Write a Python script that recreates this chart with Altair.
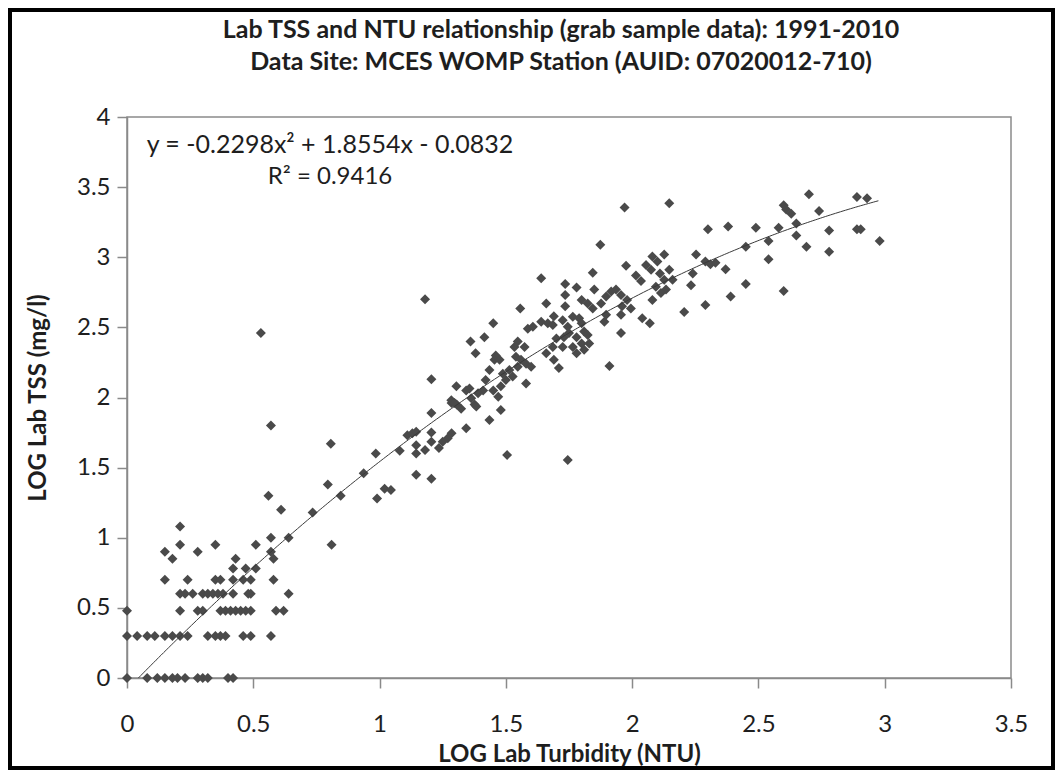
import altair as alt
import pandas as pd

# ---------------- text ----------------
TITLE_LINES = [
    "Lab TSS and NTU relationship (grab sample data): 1991-2010",
    "Data Site: MCES WOMP Station (AUID: 07020012-710)",
]
X_TITLE = "LOG Lab Turbidity (NTU)"
Y_TITLE = "LOG Lab TSS (mg/l)"
X_TICKS = [0, 0.5, 1, 1.5, 2, 2.5, 3, 3.5]
Y_TICKS = [0, 0.5, 1, 1.5, 2, 2.5, 3, 3.5, 4]

# trend line (polynomial, order 2) as printed on the chart
COEF_A = -0.2298
COEF_B = 1.8554
COEF_C = -0.0832
R_SQUARED = 0.9416
FIT_START = 0.045
FIT_END = 2.98
EQ_LINE1 = "y = -0.2298x\u00b2 + 1.8554x - 0.0832"
EQ_LINE2 = "R\u00b2 = 0.9416"

# ---------------- data (LOG turbidity, LOG TSS) ----------------
floor_rows = [
    (0.00, 0), (0.08, 0), (0.12, 0), (0.15, 0), (0.18, 0), (0.20, 0), (0.23, 0),
    (0.28, 0), (0.30, 0), (0.32, 0), (0.40, 0), (0.42, 0),
    (0.00, 0.30), (0.04, 0.30), (0.08, 0.30), (0.11, 0.30), (0.15, 0.30), (0.18, 0.30),
    (0.21, 0.30), (0.24, 0.30), (0.32, 0.30), (0.35, 0.30), (0.37, 0.30), (0.39, 0.30),
    (0.46, 0.30), (0.49, 0.30), (0.57, 0.30),
    (0.00, 0.48), (0.21, 0.48), (0.28, 0.48), (0.30, 0.48), (0.37, 0.48), (0.39, 0.48),
    (0.41, 0.48), (0.43, 0.48), (0.45, 0.48), (0.47, 0.48), (0.49, 0.48), (0.59, 0.48),
    (0.62, 0.48),
    (0.21, 0.60), (0.23, 0.60), (0.26, 0.60), (0.30, 0.60), (0.32, 0.60), (0.34, 0.60),
    (0.36, 0.60), (0.38, 0.60), (0.42, 0.60), (0.48, 0.60), (0.49, 0.60), (0.64, 0.60),
    (0.15, 0.70), (0.24, 0.70), (0.35, 0.70), (0.37, 0.70), (0.42, 0.70), (0.46, 0.70),
    (0.49, 0.70), (0.58, 0.70),
    (0.42, 0.78), (0.47, 0.78), (0.51, 0.78),
    (0.18, 0.85), (0.43, 0.85), (0.58, 0.85),
    (0.15, 0.90), (0.28, 0.90), (0.57, 0.90),
    (0.21, 0.95), (0.35, 0.95), (0.51, 0.95), (0.81, 0.95),
    (0.57, 1.00), (0.64, 1.00), (0.21, 1.08),
    (0.61, 1.20), (0.56, 1.30), (0.57, 1.80), (0.53, 2.46),
]

transition = [
    (0.735, 1.18), (0.795, 1.38), (0.807, 1.67), (0.846, 1.30), (0.937, 1.46),
    (0.985, 1.60), (0.99, 1.28), (1.02, 1.35), (1.045, 1.34), (1.08, 1.62),
    (1.11, 1.73), (1.13, 1.745), (1.145, 1.755), (1.145, 1.66), (1.145, 1.60),
    (1.18, 1.625), (1.145, 1.45), (1.205, 1.42), (1.205, 1.89), (1.205, 1.75),
    (1.205, 1.685), (1.235, 1.64), (1.25, 1.685), (1.27, 1.71), (1.285, 1.745),
    (1.285, 1.96), (1.305, 1.95), (1.18, 2.70), (1.205, 2.13),
]

core_lower = [
    (1.735, 2.81), (1.735, 2.73), (1.735, 2.65), (1.66, 2.67), (1.557, 2.635),
    (1.45, 2.53), (1.415, 2.43), (1.36, 2.40), (1.38, 2.315), (1.587, 2.49),
    (1.607, 2.505), (1.64, 2.54), (1.666, 2.53), (1.69, 2.58), (1.70, 2.42),
    (1.725, 2.36), (1.534, 2.36), (1.547, 2.40), (1.574, 2.36), (1.54, 2.29),
    (1.56, 2.27), (1.58, 2.24), (1.60, 2.22), (1.514, 2.196), (1.527, 2.15),
    (1.547, 2.22), (1.46, 2.30), (1.455, 2.27), (1.475, 2.27), (1.435, 2.196),
    (1.488, 2.17), (1.48, 2.08), (1.50, 2.125), (1.47, 2.005), (1.45, 2.05),
    (1.42, 2.125), (1.41, 2.05), (1.39, 2.03), (1.363, 1.995), (1.376, 1.95),
    (1.383, 1.935), (1.343, 2.05), (1.356, 2.065), (1.304, 2.08), (1.284, 1.98),
    (1.297, 1.96), (1.323, 1.92), (1.58, 2.10), (1.435, 1.84), (1.48, 1.91),
    (1.343, 1.78), (1.66, 2.315), (1.69, 2.27), (1.71, 2.21), (1.686, 2.36),
    (1.505, 1.59), (1.745, 1.555),
]

core_upper = [
    (1.686, 2.517), (1.725, 2.55), (1.745, 2.505), (1.765, 2.576), (1.79, 2.565),
    (1.80, 2.53), (1.75, 2.46), (1.73, 2.43), (1.78, 2.43), (1.81, 2.47),
    (1.824, 2.445), (1.83, 2.385), (1.80, 2.385), (1.765, 2.36), (1.78, 2.315),
    (1.81, 2.34), (1.91, 2.225),
    (1.64, 2.85), (1.78, 2.785), (1.844, 2.89), (1.85, 2.77), (1.80, 2.695),
    (1.824, 2.67), (1.844, 2.635), (1.877, 2.67), (1.897, 2.72), (1.917, 2.755),
    (1.936, 2.77), (1.956, 2.73), (1.976, 2.94), (2.015, 2.87), (1.96, 2.65),
    (1.98, 2.695), (1.995, 2.635), (1.956, 2.59), (1.897, 2.59), (1.89, 2.54),
    (1.956, 2.46), (2.04, 2.565), (2.07, 2.53), (2.055, 2.945), (2.08, 3.005),
    (2.10, 2.97), (2.127, 3.02), (2.075, 2.91), (2.11, 2.885), (2.127, 2.84),
    (2.147, 2.91), (2.134, 2.77), (2.114, 2.745), (2.094, 2.79), (2.08, 2.695),
    (2.035, 2.83), (2.16, 2.84), (1.874, 3.09), (1.97, 3.355), (2.147, 3.385),
]

top_right = [
    (2.253, 3.02), (2.24, 2.885), (2.233, 2.80), (2.206, 2.61), (2.29, 2.66),
    (2.70, 3.45), (2.89, 3.43), (2.93, 3.42), (2.60, 3.37), (2.61, 3.34),
    (2.63, 3.31), (2.74, 3.33), (2.65, 3.24), (2.58, 3.21), (2.49, 3.21),
    (2.38, 3.22), (2.30, 3.20), (2.78, 3.19), (2.89, 3.20), (2.905, 3.20),
    (2.98, 3.115), (2.65, 3.155), (2.54, 3.115), (2.45, 3.075), (2.69, 3.075),
    (2.78, 3.04), (2.54, 2.985), (2.29, 2.97), (2.31, 2.95), (2.33, 2.96),
    (2.37, 2.915), (2.45, 2.81), (2.60, 2.76), (2.39, 2.72),
]

points = floor_rows + transition + core_lower + core_upper + top_right
df = pd.DataFrame(points, columns=["x", "y"])

# ---------------- layout ----------------
W, H = 884, 561
PAD = {"left": 119, "top": 109, "right": 44, "bottom": 92}
FONT = "Lato"
GREY = "#8a8a8a"
INK = "#1e1e1e"

x_scale = alt.Scale(domain=[0, 3.5], nice=False, zero=False)
y_scale = alt.Scale(domain=[0, 4], nice=False, zero=False)

x_axis = alt.Axis(
    values=X_TICKS, format="~g", title=X_TITLE, tickSize=10, labelPadding=24,
    titleX=W / 2, titleY=76, titleAlign="center", titleBaseline="middle",
    labelFlush=False,
)
y_axis = alt.Axis(
    values=Y_TICKS, format="~g", title=Y_TITLE, tickSize=10, labelPadding=7,
    titleX=-89, titleY=H / 2, titleAlign="center", titleBaseline="middle",
    titleAngle=270, labelFlush=False,
)

X = alt.X("x:Q", scale=x_scale, axis=x_axis)
Y = alt.Y("y:Q", scale=y_scale, axis=y_axis)

frame = alt.Chart(pd.DataFrame({"k": [0]})).mark_rect(
    fillOpacity=0, stroke="black", strokeWidth=4
).encode(
    x=alt.value(-PAD["left"] + 2), x2=alt.value(W + PAD["right"] - 2),
    y=alt.value(-PAD["top"] + 2), y2=alt.value(H + PAD["bottom"] - 2),
)

scatter = alt.Chart(df).mark_point(
    shape="diamond", filled=True, size=100, color="#4a4a4a", opacity=1
).encode(x=X, y=Y)

curve = alt.Chart(alt.sequence(FIT_START, FIT_END + 0.001, 0.01, as_="x")).transform_calculate(
    y=f"{COEF_A}*datum.x*datum.x + {COEF_B}*datum.x + ({COEF_C})"
).mark_line(color="#3a3a3a", strokeWidth=1).encode(x=X, y=Y)

txt_df = pd.DataFrame({
    "t1": [TITLE_LINES[0]], "t2": [TITLE_LINES[1]],
    "e1": [EQ_LINE1], "e2": [EQ_LINE2],
})


def text_layer(field, px, py, size, weight="normal"):
    return alt.Chart(txt_df).mark_text(
        font=FONT, fontSize=size, fontWeight=weight, color=INK,
        align="center", baseline="middle",
    ).encode(x=alt.value(px), y=alt.value(py), text=f"{field}:N")


title1 = text_layer("t1", 434, -87, 25, "bold")
title2 = text_layer("t2", 434, -55, 25, "bold")
eq1 = text_layer("e1", 203, 28, 25)
eq2 = text_layer("e2", 203, 60, 24)

chart = alt.layer(frame, scatter, curve, eq1, eq2, title1, title2).properties(
    width=W, height=H,
    padding=PAD,
    autosize=alt.AutoSizeParams(type="none"),
).configure_view(
    stroke=GREY, strokeWidth=1.5
).configure_axis(
    grid=False, domainColor=GREY, domainWidth=1.5, tickColor=GREY, tickWidth=1.5,
    labelFont=FONT, labelFontSize=24, labelColor=INK,
    titleFont=FONT, titleFontSize=24, titleFontWeight="bold", titleColor=INK,
)

chart.save("out.html", embed_options={"renderer": "svg", "actions": False})
